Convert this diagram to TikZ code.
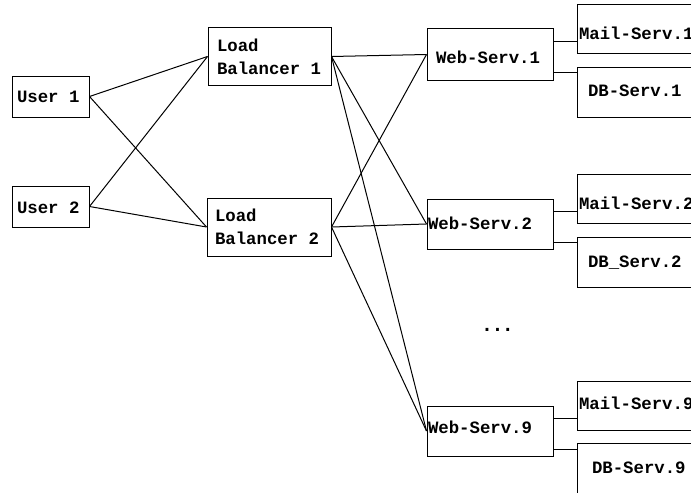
\documentclass[tikz,border=0pt]{standalone}
\usepackage{fontspec}
\setmonofont{Liberation Mono}
\newfontfamily\dotsfamily{DejaVu Sans Mono}
\newcommand\srvfont{\ttfamily\bfseries\fontsize{13}{17.25}\selectfont}
\begin{document}
\begin{tikzpicture}[x=0.75pt,y=-0.75pt,
  srv/.style={draw, line width=0.75pt, align=flush left, inner ysep=0pt, font=\srvfont},
  % width, height, left padding, text width
  dim/.style n args={4}{minimum width=#1, minimum height=#2, inner xsep=#3, text width=#4},
  % baseline placement of a one-line label
  lift/.style={text height=#1, text depth=8pt},
  link/.style={line width=0.75pt}]
\useasboundingbox (0,0) rectangle (691,492);
\begin{scope}
\clip (0,0) rectangle (691,492);

% clients
\node[srv, dim={57.75pt}{30.75pt}{3.75pt}{50.25pt}, lift=17.3pt] (u1) at (50.5,96.5) {User 1};
\node[srv, dim={57.75pt}{30.75pt}{3.75pt}{50.25pt}, lift=18.2pt] (u2) at (50.5,206.5) {User 2};

% load balancers
\node[srv, dim={92.25pt}{42.75pt}{6.75pt}{78.75pt}] (lb1) at (269.5,56.5) {Load\\Balancer 1};
\node[srv, dim={93pt}{43.5pt}{6pt}{81pt}] (lb2) at (269,227) {Load\\Balancer 2};

% web servers
\node[srv, dim={94.5pt}{38.25pt}{6.75pt}{81pt}, lift=21.2pt] (w1) at (490,54.5) {Web-Serv.1};
\node[srv, dim={94.5pt}{37.5pt}{0.75pt}{93pt}, lift=16pt] (w2) at (490,224) {Web-Serv.2};
\node[srv, dim={94.5pt}{37.5pt}{0.75pt}{93pt}, lift=11.4pt] (w9) at (490,431) {Web-Serv.9};

% back-end servers
\node[srv, dim={93pt}{36.75pt}{1.5pt}{90pt}, lift=22.7pt] (m1) at (639,29.5) {Mail-Serv.1};
\node[srv, dim={93pt}{37.5pt}{8.25pt}{76.5pt}, lift=15pt] (d1) at (639,92) {DB-Serv.1};
\node[srv, dim={93pt}{36.75pt}{1.5pt}{90pt}, lift=24.2pt] (m2) at (639,198.5) {Mail-Serv.2};
\node[srv, dim={93pt}{37.5pt}{8.25pt}{76.5pt}, lift=16pt] (d2) at (639,262) {DB\_Serv.2};
\node[srv, dim={93pt}{36.75pt}{1.5pt}{90pt}, lift=13pt] (m9) at (639,406) {Mail-Serv.9};
\node[srv, dim={93pt}{37.5pt}{11.25pt}{70.5pt}, lift=16pt] (d9) at (639,468) {DB-Serv.9};

\node[font=\dotsfamily\bfseries\fontsize{13}{17.25}\selectfont, anchor=base, inner sep=0pt] (dots) at (497.5,331) {...};

% users to balancers
\foreach \u in {u1,u2}
  \foreach \b in {lb1,lb2}
    \draw[link] (\u.east) -- (\b.west);

% balancers to web servers
\foreach \b in {lb1,lb2}
  \foreach \w in {w1,w2,w9}
    \draw[link] (\b.east) -- (\w.west);

% web servers to mail and database servers
\foreach \w/\m/\d in {w1/m1/d1, w2/m2/d2, w9/m9/d9} {
  \draw[link] ([yshift=9.4pt]\w.east) -- ([yshift=9.4pt]\w.east -| \m.west);
  \draw[link] ([yshift=-13.5pt]\w.east) -- ([yshift=-13.5pt]\w.east -| \d.west);
}
\end{scope}
\end{tikzpicture}
\end{document}
